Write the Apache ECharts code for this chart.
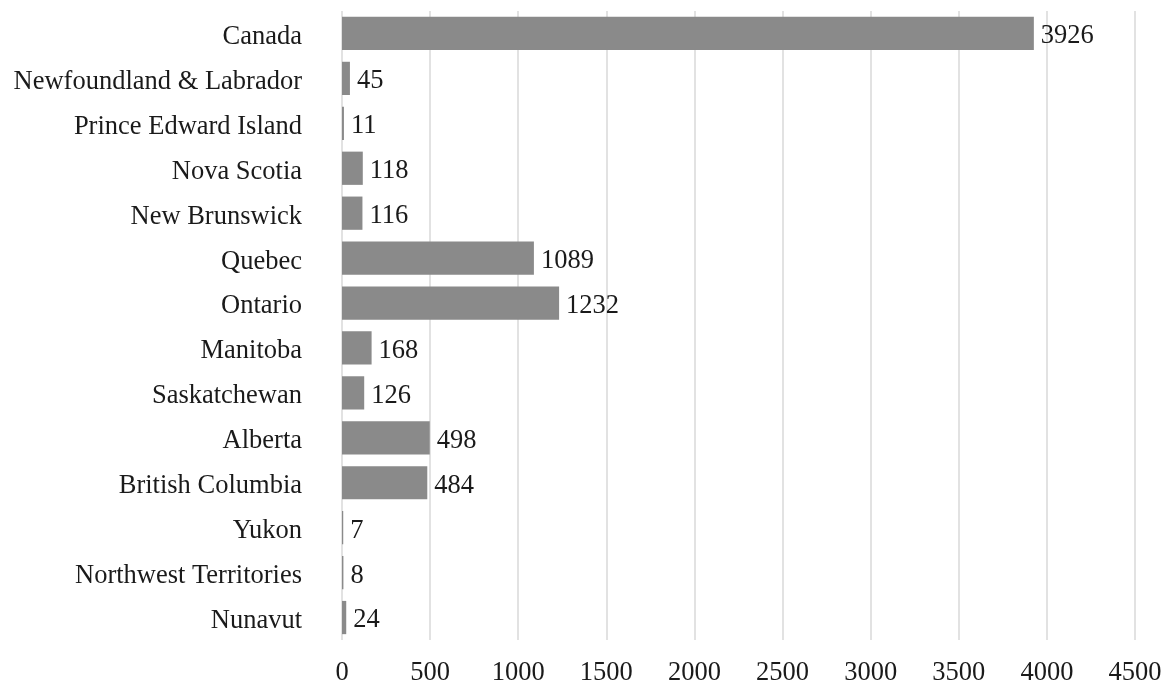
<!DOCTYPE html>
<html>
<head>
<meta charset="utf-8">
<script src="https://cdn.jsdelivr.net/npm/echarts@6/dist/echarts.min.js"></script>
<style>
  html, body { margin: 0; padding: 0; background: #fff; }
  #chart { width: 1161px; height: 683px; }
</style>
</head>
<body>
<div id="chart"></div>
<script>
// Regions listed top to bottom as they appear on the chart
const regions = [
  'Canada', 'Newfoundland & Labrador', 'Prince Edward Island', 'Nova Scotia',
  'New Brunswick', 'Quebec', 'Ontario', 'Manitoba', 'Saskatchewan', 'Alberta',
  'British Columbia', 'Yukon', 'Northwest Territories', 'Nunavut'
];
const counts = [3926, 45, 11, 118, 116, 1089, 1232, 168, 126, 498, 484, 7, 8, 24];
const xTicks = [0, 500, 1000, 1500, 2000, 2500, 3000, 3500, 4000, 4500];

const serif = '"Liberation Serif", "DejaVu Serif", serif';
const textColor = '#1a1a1a';

const chart = echarts.init(document.getElementById('chart'), null, { renderer: 'canvas' });
chart.setOption({
  animation: false,
  backgroundColor: '#ffffff',
  grid: {
    left: 342, right: 26, top: 11, bottom: 43,
    containLabel: false,
    outerBoundsMode: 'none'
  },
  xAxis: {
    type: 'value',
    min: xTicks[0],
    max: xTicks[xTicks.length - 1],
    interval: 500,
    axisLine: { show: false },
    axisTick: { show: false },
    splitLine: { show: true, lineStyle: { color: '#e2e2e2', width: 2 } },
    axisLabel: {
      color: textColor, fontFamily: serif, fontSize: 26.5, margin: 20,
      formatter: v => String(v)
    }
  },
  yAxis: {
    type: 'category',
    data: regions,
    inverse: true,
    axisLine: { show: false },
    axisTick: { show: false },
    axisLabel: {
      margin: 40,
      formatter: v => '{name|' + v + '}',
      rich: {
        name: {
          color: textColor, fontFamily: serif, fontSize: 26.5,
          padding: [7, 0, 0, 0]
        }
      }
    }
  },
  series: [{
    type: 'bar',
    data: counts,
    barWidth: '74%',
    itemStyle: { color: '#8a8a8a' },
    label: {
      show: true,
      position: 'right',
      distance: 7,
      offset: [0, 3],
      color: textColor,
      fontFamily: serif,
      fontSize: 26.5
    }
  }]
});
</script>
</body>
</html>
